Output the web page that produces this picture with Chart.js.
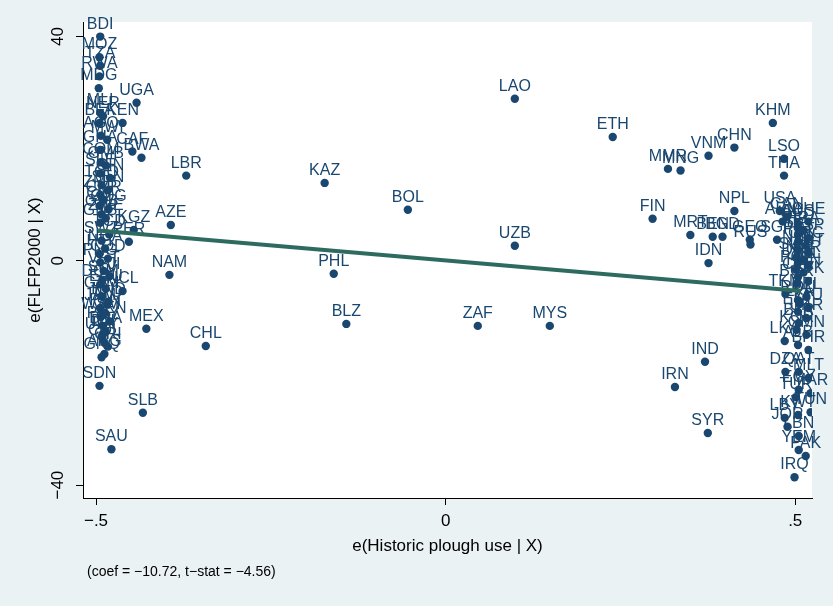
<!DOCTYPE html>
<html>
<head>
<meta charset="utf-8">
<script src="https://cdn.jsdelivr.net/npm/chart.js@4/dist/chart.umd.min.js"></script>
<style>
html, body { margin: 0; padding: 0; background: #eaf2f3; }
#graph1 { display: block; width: 833px; height: 606px; }
</style>
</head>
<body>
<canvas id="graph1" width="833" height="606"></canvas>
<script>
// avplot data: residual plough use (x) vs residual FLFP 2000 (y)
var countries = [
  'BDI','MOZ','TZA','RWA','MDG','UGA','MLI','NER','BFA','KEN','AGO','MWI','GHA','CAF','BWA','COM','GMB','SLE','GIN','LBR',
  'TGO','SEN','ZMB','CMR','CIV','COG','GAB','ZWE','GNB','AZE','KGZ','TCD','SWZ','PER','NGA','HTI','COD','PNG','VCT','NAM',
  'FJI','SLV','DOM','ECU','NCL','GTM','HND','TTO','JAM','PAN','WSM','VEN','PRY','MEX','BRA','DJI','URY','COL','CHL','CRI',
  'ARG','GNQ','SDN','SLB','SAU',
  'KAZ','BOL','PHL','BLZ','ZAF','MYS','LAO','UZB','ETH','FIN','MMR','MNG','MRT','VNM','CHN','NPL','BEN','BGD','GEO','RUS',
  'IDN','IND','IRN','SYR',
  'KHM','LSO','THA','USA','CAN','ARM','CHE','AUS','SGP','DEU','FRA','ITA','ESP','PRT','GRC','NLD','AUT','SWE','NOR','DNK',
  'IRL','POL','HUN','CZE','SVK','BGR','TKM','BEL','ROU','LVA','LTU','EST','UKR','BLR','KOR','OMN','LKA','ALB','BHR','DZA',
  'QAT','MLT','TUR','EGY','MAR','TUN','LBY','JOR','KWT','LBN','YEM','PAK','IRQ'
];
var ploughX = [
  -0.494,-0.495,-0.494,-0.495,-0.496,-0.442,-0.494,-0.490,-0.495,-0.462,-0.493,-0.484,-0.494,-0.448,-0.435,-0.493,-0.486,-0.494,-0.480,-0.371,
  -0.492,-0.483,-0.494,-0.489,-0.495,-0.482,-0.492,-0.486,-0.494,-0.393,-0.446,-0.481,-0.492,-0.453,-0.487,-0.495,-0.483,-0.494,-0.489,-0.395,
  -0.481,-0.491,-0.494,-0.486,-0.462,-0.492,-0.482,-0.484,-0.494,-0.487,-0.493,-0.480,-0.490,-0.428,-0.486,-0.490,-0.492,-0.488,-0.343,-0.483,
  -0.488,-0.492,-0.495,-0.433,-0.478,
  -0.173,-0.054,-0.160,-0.142,0.046,0.149,0.099,0.099,0.239,0.296,0.318,0.336,0.350,0.376,0.413,0.413,0.382,0.396,0.435,0.436,
  0.376,0.371,0.328,0.375,
  0.468,0.484,0.484,0.478,0.488,0.482,0.519,0.504,0.474,0.504,0.512,0.504,0.519,0.505,0.515,0.504,0.519,0.502,0.512,0.504,
  0.519,0.501,0.512,0.504,0.519,0.502,0.486,0.516,0.504,0.506,0.519,0.504,0.516,0.505,0.502,0.516,0.485,0.504,0.519,0.486,
  0.505,0.519,0.501,0.505,0.522,0.522,0.485,0.489,0.504,0.505,0.505,0.515,0.499
];
var flfpY = [
  40.0,36.3,34.8,32.9,30.8,28.2,26.4,25.8,24.6,24.6,22.3,21.6,19.8,19.5,18.4,17.6,17.0,15.6,14.8,15.2,
  13.5,12.6,11.8,10.9,9.8,9.2,8.3,7.6,6.8,6.4,5.5,4.7,3.6,3.4,2.2,1.2,0.4,-0.3,-1.8,-2.5,
  -2.8,-3.4,-4.2,-5.0,-5.4,-6.3,-7.3,-7.8,-8.4,-9.3,-10.0,-10.8,-11.6,-12.1,-12.6,-13.0,-13.5,-14.6,-15.2,-15.3,
  -16.6,-17.2,-22.3,-27.1,-33.6,
  13.9,9.1,-2.3,-11.25,-11.6,-11.6,28.9,2.7,22.1,7.5,16.4,16.1,4.6,18.75,20.2,8.9,4.3,4.3,3.75,2.9,
  -0.4,-18.0,-22.5,-30.7,
  24.6,18.2,15.2,8.9,7.9,7.0,7.0,6.6,3.75,5.9,5.4,4.6,4.1,3.4,2.7,2.0,1.4,0.7,0.2,-0.4,
  -0.9,-1.6,-2.1,-2.9,-3.6,-4.1,-5.9,-6.4,-7.0,-7.7,-8.4,-9.1,-10.2,-11.1,-12.3,-13.2,-14.3,-15.0,-15.9,-19.8,
  -19.8,-20.9,-24.3,-23.0,-23.6,-27.0,-28.0,-29.6,-27.5,-31.25,-33.75,-34.8,-38.6
];

// fitted line ends (coef = -10.72)
var fitX = [-0.497, 0.508];
var fitY = [5.4, -5.4];

var xTicks = [-0.5, 0, 0.5];
var xTickLabels = ['\u2212.5', '0', '.5'];
var yTicks = [-40, 0, 40];
var yTickLabels = ['\u221240', '0', '40'];

var navy = '#1a476f';
var green = '#2d6b60';
var font = '"Liberation Sans", Arial, Helvetica, sans-serif';

var points = ploughX.map(function(x, i) { return { x: x, y: flfpY[i] }; });
var fitPoints = fitX.map(function(x, i) { return { x: x, y: fitY[i] }; });

var stataPlugin = {
  id: 'stata',
  beforeDraw: function(chart) {
    var ctx = chart.ctx;
    var a = chart.chartArea;
    ctx.save();
    ctx.fillStyle = '#eaf2f3';
    ctx.fillRect(0, 0, chart.width, chart.height);
    ctx.fillStyle = '#ffffff';
    ctx.fillRect(a.left, a.top, a.right - a.left, a.bottom - a.top);
    ctx.restore();
  },
  afterDatasetDraw: function(chart, args) {
    if (args.index !== 1) return;
    var ctx = chart.ctx;
    ctx.save();
    ctx.font = '16px ' + font;
    ctx.fillStyle = navy;
    ctx.textAlign = 'center';
    ctx.textBaseline = 'alphabetic';
    args.meta.data.forEach(function(pt, i) {
      ctx.fillText(countries[i], pt.x, pt.y - 8);
    });
    ctx.restore();
  },
  afterDraw: function(chart) {
    var ctx = chart.ctx;
    var ys = chart.scales.y;
    ctx.save();
    ctx.font = '17px ' + font;
    ctx.fillStyle = '#000';
    ctx.textAlign = 'center';
    ctx.textBaseline = 'middle';
    yTicks.forEach(function(v, i) {
      ctx.save();
      ctx.translate(58, ys.getPixelForValue(v));
      ctx.rotate(-Math.PI / 2);
      ctx.fillText(yTickLabels[i], 0, 0);
      ctx.restore();
    });
    ctx.font = '14px ' + font;
    ctx.textAlign = 'left';
    ctx.fillText('(coef = \u221210.72, t\u2212stat = \u22124.56)', 87, 572);
    ctx.restore();
  }
};

function makeChart() {
  var ctx = document.getElementById('graph1').getContext('2d');
  var chart = new Chart(ctx, {
    type: 'scatter',
    data: {
      datasets: [
        {
          type: 'line',
          data: fitPoints,
          borderColor: green,
          borderWidth: 4,
          pointRadius: 0,
          fill: false
        },
        {
          data: points,
          backgroundColor: navy,
          borderWidth: 0,
          pointRadius: 4.2
        }
      ]
    },
    options: {
      responsive: false,
      devicePixelRatio: 1,
      animation: false,
      layout: { padding: { top: 22, right: 21, left: 0, bottom: 0 } },
      plugins: { legend: { display: false }, tooltip: { enabled: false } },
      scales: {
        x: {
          type: 'linear',
          min: -0.5186,
          max: 0.524,
          afterBuildTicks: function(scale) {
            scale.ticks = xTicks.map(function(v) { return { value: v }; });
          },
          afterFit: function(scale) { scale.height = 108; },
          ticks: {
            color: '#000',
            font: { size: 17, family: font },
            padding: 6,
            maxRotation: 0,
            callback: function(v) { return xTickLabels[xTicks.indexOf(v)]; }
          },
          grid: { drawOnChartArea: false, drawTicks: true, tickLength: 7, color: '#000' },
          border: { display: true, color: '#000', width: 1 },
          title: {
            display: true,
            text: 'e(Historic plough use | X)',
            color: '#000',
            font: { size: 17, family: font },
            padding: { top: 0, bottom: 49 }
          }
        },
        y: {
          type: 'linear',
          min: -42.3,
          max: 42.6,
          afterBuildTicks: function(scale) {
            scale.ticks = yTicks.map(function(v) { return { value: v }; });
          },
          afterFit: function(scale) { scale.width = 83; },
          ticks: {
            color: 'rgba(0,0,0,0)',
            font: { size: 17, family: font }
          },
          grid: { drawOnChartArea: false, drawTicks: true, tickLength: 7, color: '#000' },
          border: { display: true, color: '#000', width: 1 },
          title: {
            display: true,
            text: 'e(FLFP2000 | X)',
            color: '#000',
            font: { size: 17, family: font },
            padding: { top: 25, bottom: 0 }
          }
        }
      }
    },
    plugins: [stataPlugin]
  });
}

makeChart();
</script>
</body>
</html>
